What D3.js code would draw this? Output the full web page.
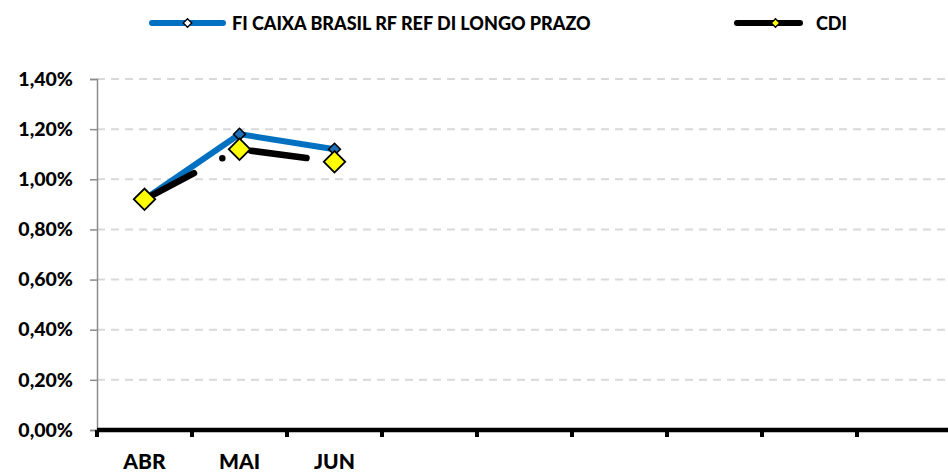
<!DOCTYPE html>
<html>
<head>
<meta charset="utf-8">
<script src="https://cdn.jsdelivr.net/npm/d3@7"></script>
<style>
  body { margin: 0; background: #fff; }
  svg text { font-family: Lato, "Open Sans", sans-serif; font-weight: 900; fill: #000; }
</style>
</head>
<body>
<svg id="chart" width="948" height="472"></svg>
<script>
// slots on the x axis, only the first three have data
const months = ['ABR', 'MAI', 'JUN', 'JUL', 'AGO', 'SET', 'OUT', 'NOV', 'DEZ', 'JAN'];
const monthLabels = ['ABR', 'MAI', 'JUN', '', '', '', '', '', '', ''];
const fundValues = [0.92, 1.18, 1.12];
const cdiValues = [0.92, 1.12, 1.07];
const yTicks = [0, 0.2, 0.4, 0.6, 0.8, 1.0, 1.2, 1.4];

const svg = d3.select('#chart');

const x = d3.scaleBand().domain(months).range([97, 97 + 95 * months.length]);
const y = d3.scaleLinear().domain([0, 1.4]).range([430, 79]);
const fmt = v => v.toFixed(2).replace('.', ',') + '%';

// grid
svg.append('g').selectAll('line').data(yTicks.slice(1)).join('line')
  .attr('x1', 97).attr('x2', 948)
  .attr('y1', d => y(d)).attr('y2', d => y(d))
  .attr('stroke', '#d9d9d9').attr('stroke-width', 2)
  .attr('stroke-dasharray', '8 6');

// y axis
const yAxis = svg.append('g').attr('transform', 'translate(97,0)')
  .call(d3.axisLeft(y).tickValues(yTicks).tickFormat(fmt).tickSize(7).tickPadding(17));
yAxis.select('.domain').attr('stroke', '#8c8c8c').attr('stroke-width', 1.5);
yAxis.selectAll('.tick line').attr('stroke', '#8c8c8c').attr('stroke-width', 1.5);
yAxis.selectAll('.tick text').style('font-size', '19.5px').attr('fill', '#000');

// x axis
const xAxis = svg.append('g').attr('transform', 'translate(0,430)')
  .call(d3.axisBottom(x).tickSize(0).tickPadding(24).tickFormat((d, i) => monthLabels[i]));
xAxis.select('.domain').remove();
xAxis.selectAll('.tick text').style('font-size', '21px').attr('fill', '#000');
svg.append('line').attr('x1', 97).attr('x2', 948).attr('y1', 430).attr('y2', 430)
  .attr('stroke', '#000').attr('stroke-width', 4.5);
svg.append('g').selectAll('line').data(months).join('line')
  .attr('x1', d => x(d)).attr('x2', d => x(d))
  .attr('y1', 430).attr('y2', 437)
  .attr('stroke', '#000').attr('stroke-width', 4);

const line = d3.line().x((d, i) => x(months[i]) + x.bandwidth() / 2).y(d => y(d));
const diamond = s => d3.symbol(d3.symbolSquare, s);

// fund series
svg.append('path').datum(fundValues).attr('d', line)
  .attr('fill', 'none').attr('stroke', '#0070c0').attr('stroke-width', 6);
svg.append('g').selectAll('path').data(fundValues).join('path')
  .attr('d', diamond(70))
  .attr('transform', (d, i) => `translate(${x(months[i]) + x.bandwidth() / 2},${y(d)}) rotate(45)`)
  .attr('fill', '#1f6fb8').attr('stroke', '#000').attr('stroke-width', 1.5);

// CDI series
svg.append('path').datum(cdiValues).attr('d', line)
  .attr('fill', 'none').attr('stroke', '#000').attr('stroke-width', 6.5)
  .attr('stroke-linecap', 'round').attr('stroke-dasharray', '56 32 0 31');
svg.append('g').selectAll('path').data(cdiValues).join('path')
  .attr('d', diamond(230))
  .attr('transform', (d, i) => `translate(${x(months[i]) + x.bandwidth() / 2},${y(d)}) rotate(45)`)
  .attr('fill', '#ffff00').attr('stroke', '#000').attr('stroke-width', 1.8);

// legend
const legend = [
  { name: 'FI CAIXA BRASIL RF REF DI LONGO PRAZO', color: '#0070c0', fill: '#fff', x1: 152, x2: 223, tx: 232 },
  { name: 'CDI', color: '#000', fill: '#ffff00', x1: 737, x2: 800, tx: 816 }
];
const lg = svg.append('g').selectAll('g').data(legend).join('g');
lg.append('line').attr('x1', d => d.x1).attr('x2', d => d.x2).attr('y1', 23).attr('y2', 23)
  .attr('stroke', d => d.color).attr('stroke-width', 6).attr('stroke-linecap', 'round');
lg.append('path').attr('d', diamond(36))
  .attr('transform', d => `translate(${(d.x1 + d.x2) / 2 + (d.fill === '#fff' ? 0 : 7)},23) rotate(45)`)
  .attr('fill', d => d.fill).attr('stroke', '#000').attr('stroke-width', 1.3);
lg.append('text').attr('x', d => d.tx).attr('y', 29.5).style('font-size', '18px').text(d => d.name);
</script>
</body>
</html>
